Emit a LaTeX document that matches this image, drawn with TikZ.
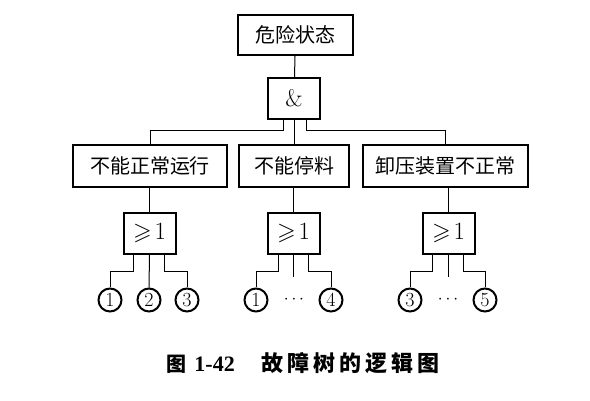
\documentclass[tikz,border=0pt]{standalone}
\usepackage{amssymb}
\usepackage{fontspec}
\newfontfamily\cjk{Noto Sans CJK SC}
\newfontfamily\capnum{Liberation Serif}
\usetikzlibrary{positioning}
\tikzset{
  evbox/.style={draw,line width=2pt,inner sep=0pt,minimum height=42pt,font=\cjk\fontsize{20}{20}\selectfont},
  gatebox/.style={draw,line width=2pt,inner sep=0pt,minimum width=52pt,minimum height=41pt,font=\fontsize{24}{24}\selectfont},
  basic/.style={circle,draw,line width=2pt,minimum size=23pt,inner sep=0pt,font=\fontsize{20}{20}\selectfont},
  link/.style={line width=1pt}
}

\begin{document}
\begin{tikzpicture}[x=1pt,y=-1pt]
\useasboundingbox (0,0) rectangle (590,401);
% top event and AND gate
\node[evbox,minimum width=115pt,minimum height=40pt] (top) at (295.5,35) {危险状态};
\node[gatebox] (and) at (294,98.5) {\&};
\draw[link] (top) -- (and);
% intermediate events
\node[evbox,minimum width=154pt] (e1) at (150,166) {不能正常运行};
\node[evbox,minimum width=110pt] (e2) at (294,166) {不能停料};
\node[evbox,minimum width=165pt] (e3) at (445.5,166) {卸压装置不正常};
\draw[link] ([xshift=-11pt]and.south) -- ++(0,11) -| (e1.north);
\draw[link] (and.south) -- (e2.north);
\draw[link] ([xshift=12pt]and.south) -- ++(0,11) -| (e3.north);
% OR gates
\foreach \i/\xx in {1/149.5,2/293.5,3/448.5} {
  \node[gatebox] (g\i) at (\xx,233.5) {$\geqslant\!1$};
  \draw[link] (e\i.south -| g\i.north) -- (g\i.north);
}
% basic events
\node[basic] (b1) at (110,300) {1};
\node[basic] (b2) at (149,300) {2};
\node[basic] (b3) at (187,300) {3};
\node[basic] (b4) at (256,300) {1};
\node[basic] (b5) at (331,300) {4};
\node[basic] (b6) at (410,300) {3};
\node[basic] (b7) at (485,300) {5};
\node[font=\fontsize{18}{18}\selectfont] (d1) at (294,300) {$\cdots$};
\node[font=\fontsize{18}{18}\selectfont] (d2) at (448,300) {$\cdots$};
\draw[link] ([xshift=-16pt]g1.south) -- ++(0,17) -| (b1.north);
\draw[link] (g1.south) -- (b2.north);
\draw[link] ([xshift=15pt]g1.south) -- ++(0,17) -| (b3.north);
\draw[link] ([xshift=-15pt]g2.south) -- ++(0,17) -| (b4.north);
\draw[link] (g2.south) -- ++(0,22);
\draw[link] ([xshift=15pt]g2.south) -- ++(0,17) -| (b5.north);
\draw[link] ([xshift=-16pt]g3.south) -- ++(0,17) -| (b6.north);
\draw[link] (g3.south) -- ++(0,22);
\draw[link] ([xshift=15pt]g3.south) -- ++(0,17) -| (b7.north);
% caption
\node[font=\fontsize{20}{20}\selectfont\bfseries] (cap) at (303,363)
  {\cjk 图\hspace{8pt}\capnum\fontsize{22}{22}\selectfont 1-42\hspace{27pt}\cjk\addfontfeature{LetterSpace=18}故障树的逻辑图};
\end{tikzpicture}
\end{document}
